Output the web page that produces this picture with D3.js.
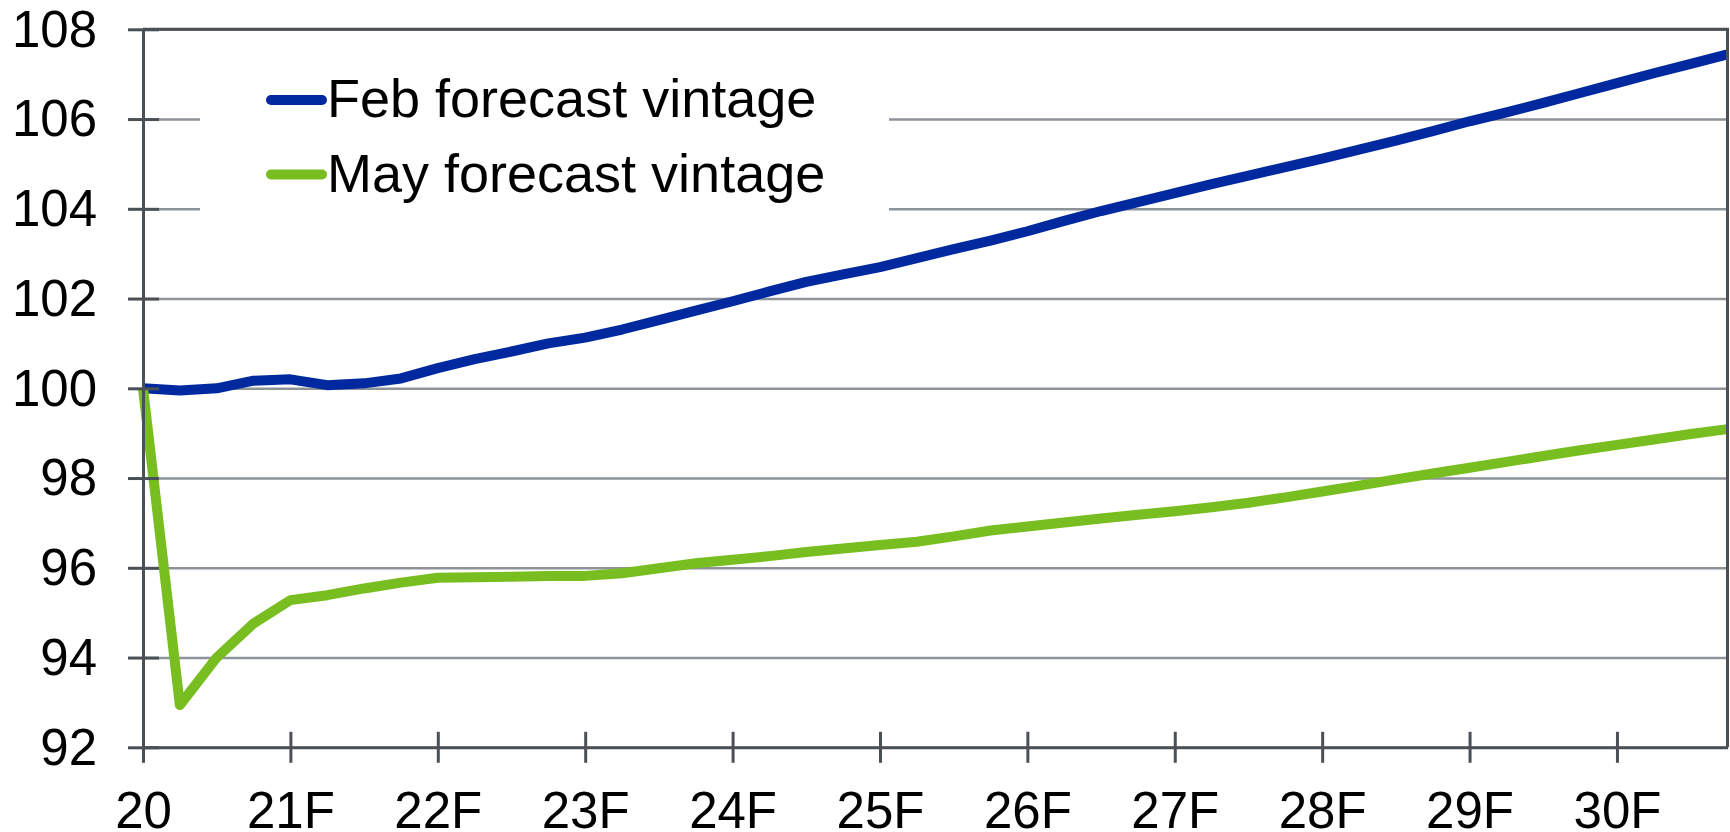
<!DOCTYPE html>
<html>
<head>
<meta charset="utf-8">
<script src="https://cdn.jsdelivr.net/npm/d3@7"></script>
<style>
  html, body { margin: 0; padding: 0; background: #fff; }
  svg { display: block; font-family: "Liberation Sans", Arial, sans-serif; }
</style>
</head>
<body>
<svg id="chart" width="1730" height="832"></svg>
<script>
// Quarterly index, 2020Q1 = 100 (44 quarters: 2020Q1..2030Q4)
const quarters = d3.range(44);
const febValues = [
  100.00, 99.95, 100.00, 100.17, 100.20, 100.07, 100.11, 100.22,
  100.45, 100.65, 100.82, 101.00, 101.13, 101.31, 101.52, 101.73,
  101.94, 102.16, 102.37, 102.54, 102.70, 102.90, 103.10, 103.29,
  103.50, 103.73, 103.95, 104.15, 104.35, 104.55, 104.74, 104.93,
  105.12, 105.32, 105.52, 105.73, 105.95, 106.15, 106.36, 106.58,
  106.80, 107.02, 107.23, 107.44
];
const mayValues = [
  100.00, 92.94, 94.00, 94.76, 95.28, 95.39, 95.54, 95.67,
  95.78, 95.79, 95.80, 95.82, 95.82, 95.88, 95.99, 96.10,
  96.18, 96.26, 96.35, 96.43, 96.51, 96.58, 96.70, 96.83,
  96.92, 97.01, 97.10, 97.18, 97.26, 97.35, 97.45, 97.57,
  97.70, 97.83, 97.97, 98.10, 98.23, 98.36, 98.49, 98.62,
  98.74, 98.86, 98.98, 99.09
];
const seriesNames = ["Feb forecast vintage", "May forecast vintage"];
const seriesColors = ["#0029A0", "#78BE20"];
const xTickIndex = [0, 4, 8, 12, 16, 20, 24, 28, 32, 36, 40];
const xTickLabels = ["20", "21F", "22F", "23F", "24F", "25F", "26F", "27F", "28F", "29F", "30F"];
const yTicks = [92, 94, 96, 98, 100, 102, 104, 106, 108];

const svg = d3.select("#chart");
const mLeft = 143, mRight = 1727.5, mTop = 29.3, mBottom = 747.3;
const W = mRight - mLeft;

const x = d3.scaleLinear().domain([0, 43]).range([mLeft, mRight]);
const y = d3.scaleLinear().domain([92, 108]).range([mBottom, mTop]);

const axisColor = "#4B5057";
const gridColor = "#8E9399";
const fontFam = "'Liberation Sans', Arial, sans-serif";

// gridlines
svg.append("g")
  .attr("transform", `translate(${mLeft},0)`)
  .call(d3.axisLeft(y).tickValues(yTicks).tickSize(-W).tickFormat(""))
  .call(g => g.select(".domain").remove())
  .call(g => g.selectAll("line").attr("stroke", gridColor).attr("stroke-width", 2.5));

// legend background (hides gridlines)
svg.append("rect")
  .attr("x", 200).attr("y", 42).attr("width", 689).attr("height", 205)
  .attr("fill", "#fff");

// lines
const line = d3.line().x((d, i) => x(quarters[i])).y(d => y(d));
[febValues, mayValues].forEach((vals, k) => {
  svg.append("path")
    .datum(vals)
    .attr("d", line)
    .attr("fill", "none")
    .attr("stroke", seriesColors[k])
    .attr("stroke-width", 10)
    .attr("stroke-linejoin", "round")
    .attr("stroke-linecap", "butt");
});

// frame (top and right)
svg.append("path")
  .attr("d", `M${mLeft},${mTop}H${mRight}V${mBottom}`)
  .attr("fill", "none").attr("stroke", axisColor).attr("stroke-width", 3);

// y axis
svg.append("g")
  .attr("transform", `translate(${mLeft},0)`)
  .call(d3.axisLeft(y).tickValues(yTicks).tickSizeInner(15).tickSizeOuter(0).tickPadding(32))
  .call(g => g.select(".domain").attr("stroke", axisColor).attr("stroke-width", 3))
  .call(g => g.selectAll(".tick line").attr("stroke", axisColor).attr("stroke-width", 3).attr("x1", 16).attr("x2", -15))
  .call(g => g.selectAll(".tick text")
    .attr("fill", "#000").attr("font-size", 51)
    .attr("x", -46).attr("dy", "0.33em")
    .style("font-family", fontFam));

// x axis
svg.append("g")
  .attr("transform", `translate(0,${mBottom})`)
  .call(d3.axisBottom(x).tickValues(xTickIndex).tickFormat((d, i) => xTickLabels[i]).tickSizeOuter(0))
  .call(g => g.select(".domain").attr("stroke", axisColor).attr("stroke-width", 3))
  .call(g => g.selectAll(".tick line").attr("stroke", axisColor).attr("stroke-width", 3).attr("y1", -15.5).attr("y2", 15.5))
  .call(g => g.selectAll(".tick text")
    .attr("fill", "#000").attr("font-size", 51)
    .attr("y", 81).attr("dy", "0")
    .style("font-family", fontFam));

// legend
const legend = svg.append("g");
seriesNames.forEach((name, k) => {
  const ly = 100 + k * 74.5;
  legend.append("line")
    .attr("x1", 271).attr("x2", 322).attr("y1", ly).attr("y2", ly)
    .attr("stroke", seriesColors[k]).attr("stroke-width", 10).attr("stroke-linecap", "round");
  legend.append("text")
    .attr("x", 327).attr("y", ly + 17.3)
    .attr("font-size", 54).attr("fill", "#000")
    .style("font-family", fontFam)
    .text(name);
});
</script>
</body>
</html>
